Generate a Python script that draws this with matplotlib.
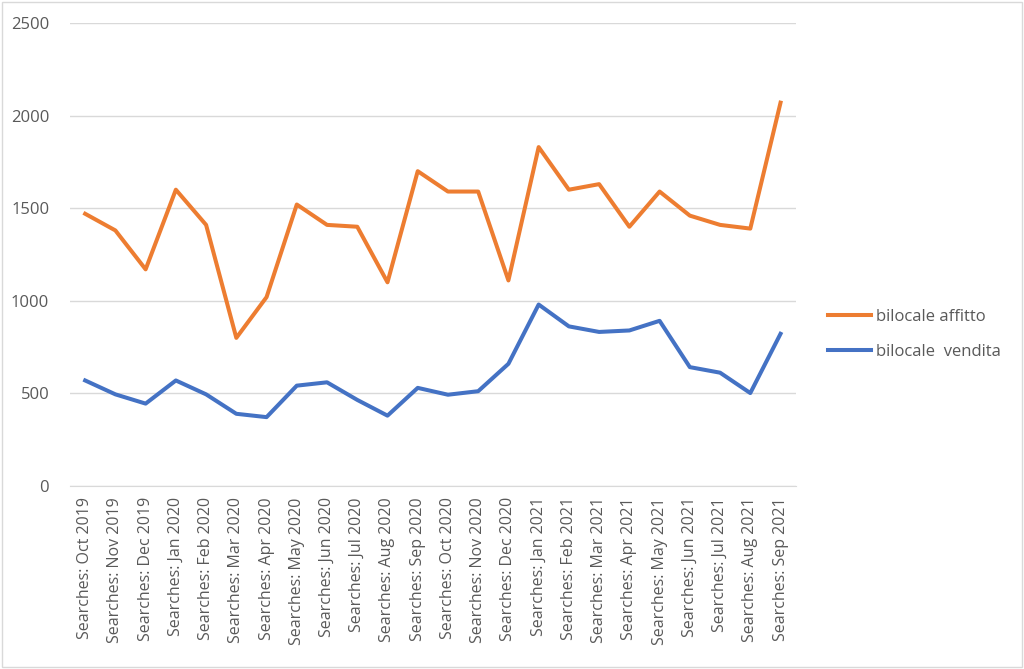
import matplotlib.pyplot as plt
from matplotlib.patches import Rectangle

months = ['Oct 2019', 'Nov 2019', 'Dec 2019', 'Jan 2020', 'Feb 2020', 'Mar 2020',
          'Apr 2020', 'May 2020', 'Jun 2020', 'Jul 2020', 'Aug 2020', 'Sep 2020',
          'Oct 2020', 'Nov 2020', 'Dec 2020', 'Jan 2021', 'Feb 2021', 'Mar 2021',
          'Apr 2021', 'May 2021', 'Jun 2021', 'Jul 2021', 'Aug 2021', 'Sep 2021']
labels = ['Searches: ' + m for m in months]

affitto = [1470, 1380, 1170, 1600, 1410, 800, 1020, 1520, 1410, 1400, 1100, 1700,
           1590, 1590, 1110, 1830, 1600, 1630, 1400, 1590, 1460, 1410, 1390, 2070]
vendita = [570, 495, 445, 570, 495, 390, 372, 542, 560, 465, 380, 530,
           493, 512, 660, 980, 862, 832, 840, 892, 642, 612, 502, 822]

plt.rcParams['font.family'] = ['Open Sans', 'DejaVu Sans']
grey = '#595959'

fig = plt.figure(figsize=(10.24, 6.69), dpi=100)
ax = fig.add_axes([0.0684, 0.2735, 0.7086, 0.6921])

x = range(len(labels))
ax.plot(x, affitto, color='#ED7D31', lw=2.9, label='bilocale affitto')
ax.plot(x, vendita, color='#4472C4', lw=2.9, label='bilocale  vendita')

ax.set_xlim(-0.5, len(labels) - 0.5)
ax.set_ylim(0, 2500)
ax.set_yticks(range(0, 2501, 500))
ax.set_xticks(list(x))
ax.set_xticklabels(labels, rotation=90, fontsize=11.5, color=grey)
ax.tick_params(axis='y', labelsize=12, labelcolor=grey, length=0, pad=15)
ax.tick_params(axis='x', length=0, pad=8)
ax.grid(axis='y', color='#D9D9D9', lw=1)
ax.set_axisbelow(True)
for s in ['top', 'right', 'left']:
    ax.spines[s].set_visible(False)
ax.spines['bottom'].set_color('#D9D9D9')

leg = fig.legend(loc='center left', bbox_to_anchor=(0.8086, 0.5), frameon=False,
                 fontsize=12, handlelength=2.6, handletextpad=0.3, labelspacing=1.15,
                 borderpad=0, borderaxespad=0)
for t in leg.get_texts():
    t.set_color(grey)

fig.patches.append(Rectangle((0.002, 0.003), 0.996, 0.994, transform=fig.transFigure,
                             fill=False, edgecolor='#D9D9D9', lw=1))

fig.savefig('out.png', dpi=100, facecolor='white')
